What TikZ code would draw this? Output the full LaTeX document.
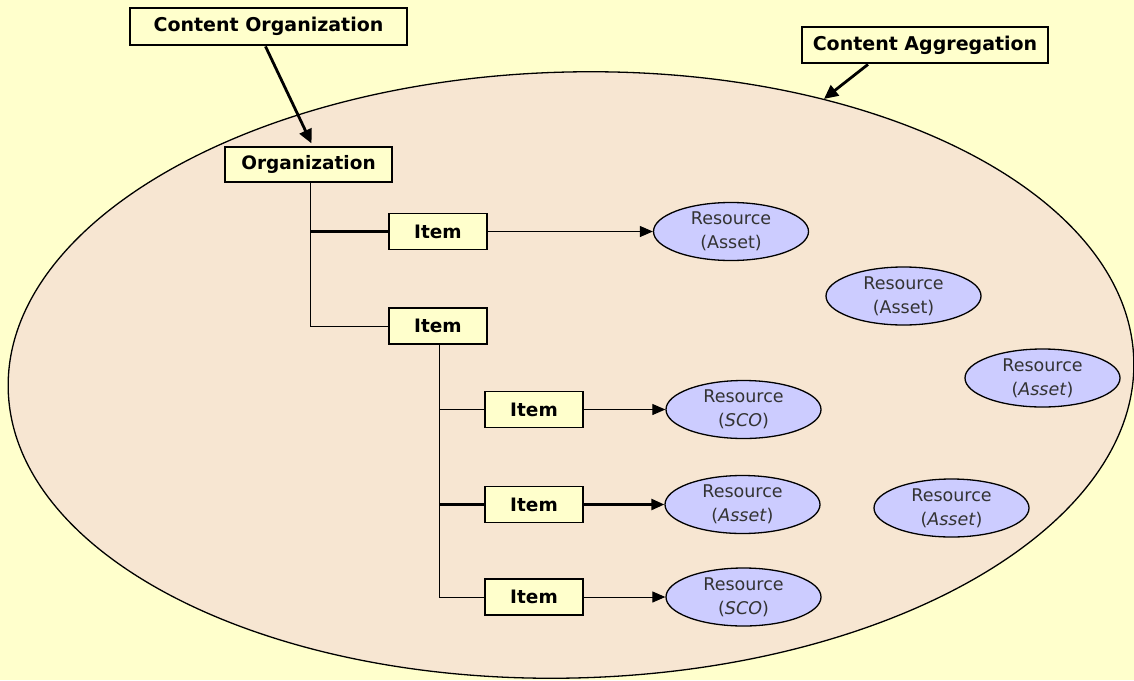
\documentclass[tikz,border=0pt]{standalone}
\usepackage{fontspec}
\setmainfont{DejaVu Sans}
\usetikzlibrary{shapes.geometric,arrows.meta}
\definecolor{paper}{HTML}{FFFFCC}
\definecolor{aggfill}{HTML}{F7E6D2}
\definecolor{resfill}{HTML}{CCCCFF}
\definecolor{restext}{HTML}{333333}
\begin{document}
\begin{tikzpicture}[x=1pt,y=1pt,
  callout/.style={draw, line width=2.8pt, fill=paper, inner sep=0pt,
    font=\fontsize{19}{22}\selectfont\bfseries},
  orgbox/.style={draw, line width=1.2pt, fill=paper, inner sep=0pt,
    minimum width=167pt, minimum height=35pt,
    font=\fontsize{18.5}{22}\selectfont\bfseries},
  itembox/.style={draw, line width=1.2pt, fill=paper, inner sep=0pt,
    minimum width=98pt, minimum height=36pt,
    font=\fontsize{18.5}{22}\selectfont\bfseries},
  res/.style={draw, ellipse, line width=1.3pt, fill=resfill, inner sep=0pt,
    minimum width=155pt, minimum height=58pt, align=center, text=restext,
    font=\fontsize{17.5}{24}\selectfont},
  tree/.style={line width=1pt},
  treebold/.style={line width=2.4pt},
  link/.style={line width=1pt, -{Triangle[length=13pt,width=11pt]}},
  linkbold/.style={line width=2.4pt, -{Triangle[length=13pt,width=11pt]}},
  pointer/.style={line width=2.8pt, -{Triangle[length=14pt,width=13pt]}},
]
\useasboundingbox (0,0) rectangle (1134,-680);
\fill[paper] (0,0) rectangle (1134,-680);
\clip (0,0) rectangle (1134,-680);

% content aggregation boundary
\node[draw, ellipse, line width=1.3pt, fill=aggfill, inner sep=0pt, rotate=1.5,
      minimum width=1126pt, minimum height=606pt] (agg) at (571,-375) {};

% callout labels
\node[callout, minimum width=277pt, minimum height=37pt] (co) at (268.5,-26.5) {Content Organization};
\node[callout, minimum width=246pt, minimum height=36pt] (ca) at (925,-45) {Content Aggregation};

% organization tree
\node[orgbox] (org) at (308.5,-164.5) {Organization};
\node[itembox] (it1) at (438,-231.5) {Item};
\node[itembox] (it2) at (438,-326) {Item};
\node[itembox] (it3) at (534,-409.5) {Item};
\node[itembox] (it4) at (534,-504.5) {Item};
\node[itembox] (it5) at (534,-597) {Item};

% resources
\node[res] (r1) at (731,-231.5) {Resource\\(Asset)};
\node[res] (r2) at (903.5,-296) {Resource\\(Asset)};
\node[res] (r3) at (1042.5,-378) {Resource\\(\textit{Asset})};
\node[res] (r4) at (743.5,-409.5) {Resource\\(\textit{SCO})};
\node[res] (r5) at (742.5,-504.5) {Resource\\(\textit{Asset})};
\node[res] (r6) at (951.5,-508) {Resource\\(\textit{Asset})};
\node[res] (r7) at (743.5,-597) {Resource\\(\textit{SCO})};

% tree connectors
\coordinate (orgstem) at ([xshift=2pt]org.south);
\coordinate (it2stem) at ([xshift=1pt]it2.south);
\draw[tree] (orgstem) -- (orgstem |- it2.west) -- (it2.west);
\draw[treebold] (orgstem |- it1.west) -- (it1.west);
\draw[tree] (it2stem) -- (it2stem |- it5.west) -- (it5.west);
\draw[tree] (it2stem |- it3.west) -- (it3.west);
\draw[treebold] (it2stem |- it4.west) -- (it4.west);

% item to resource links
\draw[link] (it1.east) -- (r1.west);
\draw[link] (it3.east) -- (r4.west);
\draw[linkbold] (it4.east) -- (r5.west);
\draw[link] (it5.east) -- (r7.west);

% callout pointers
\coordinate (cofoot) at ([xshift=-3pt]co.south);
\coordinate (orgtip) at ([xshift=3pt,yshift=3pt]org.north);
\draw[pointer] (cofoot) -- (orgtip);
\coordinate (cafoot) at ([xshift=-57pt]ca.south);
\draw[pointer] (cafoot) -- (agg.46);
\end{tikzpicture}
\end{document}
